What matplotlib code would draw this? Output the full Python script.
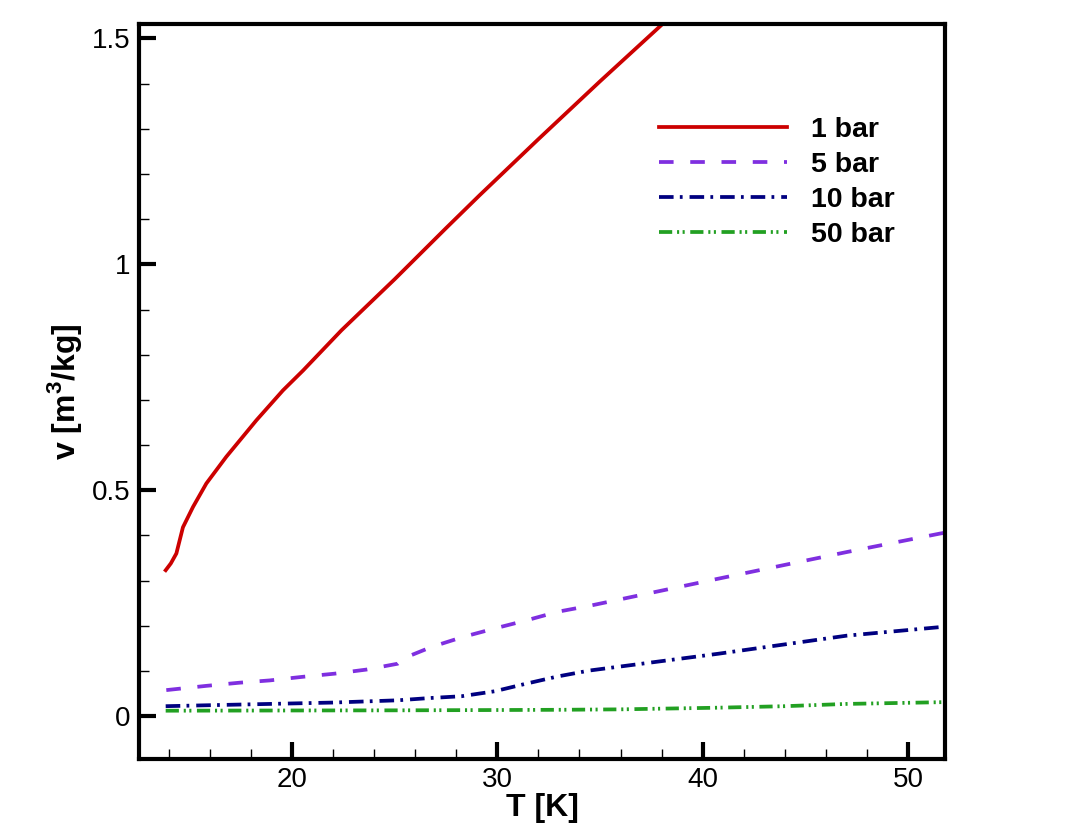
import matplotlib
matplotlib.use('Agg')
from matplotlib import rcParams, pyplot as plt
from matplotlib.ticker import MultipleLocator, FuncFormatter

rcParams['font.family'] = ['Liberation Sans', 'DejaVu Sans']
rcParams['mathtext.fontset'] = 'custom'
rcParams['mathtext.rm'] = 'Liberation Sans:bold'
rcParams['mathtext.bf'] = 'Liberation Sans:bold'
rcParams['lines.scale_dashes'] = False

# 1 bar
T1 = [13.85, 14.1, 14.37, 14.69, 15.18, 15.83, 16.8, 18.27, 19.56, 20.54,
	22.41, 25.0, 27.5, 29.14, 32.0, 35.0, 38.0, 40.0]
v1 = [0.323, 0.338, 0.36, 0.418, 0.463, 0.515, 0.574, 0.655, 0.721, 0.765,
	0.854, 0.967, 1.08, 1.153, 1.277, 1.405, 1.53, 1.615]
# 5 bar
T5 = [13.88, 15.83, 17.45, 18.91, 20.52, 22.08, 23.62, 25.15, 25.49, 26.79,
	28.31, 29.87, 31.42, 32.94, 34.58, 40.74, 47.0, 51.55, 51.8]
v5 = [0.0576, 0.067, 0.074, 0.079, 0.087, 0.094, 0.103, 0.116, 0.129, 0.153,
	0.175, 0.194, 0.212, 0.231, 0.245, 0.304, 0.363, 0.404, 0.406]
# 10 bar
T10 = [13.85, 15.83, 18.91, 21.98, 25.15, 26.7, 28.25, 29.87, 31.42, 32.96,
	34.5, 40.75, 47.0, 51.55, 51.8]
v10 = [0.022, 0.024, 0.027, 0.030, 0.035, 0.040, 0.044, 0.055, 0.072, 0.088,
	0.101, 0.138, 0.178, 0.197, 0.199]
# 50 bar
T50 = [13.85, 20.0, 25.0, 30.0, 33.0, 36.0, 40.7, 44.0, 47.0, 51.8]
v50 = [0.012, 0.0125, 0.0128, 0.0135, 0.014, 0.015, 0.0186, 0.022, 0.027, 0.031]

labels = ['1 bar', '5 bar', '10 bar', '50 bar']

fig = plt.figure(figsize=(10.75, 8.39), dpi=100)
ax = fig.add_axes([0.1293, 0.0953, 0.879 - 0.1293, 0.9714 - 0.0953])

lw = 2.7
ax.plot(T1, v1, color='#cc0000', lw=lw, ls='-', label=labels[0])
ax.plot(T5, v5, color='#7f2fe0', lw=lw, ls=(0, (10.5, 12)), label=labels[1])
ax.plot(T10, v10, color='#000080', lw=lw, ls=(0, (10.5, 4.5, 2, 5)),
	label=labels[2])
ax.plot(T50, v50, color='#22a022', lw=lw,
	ls=(0, (9.5, 3.5, 1.5, 2.5, 1.5, 4)), label=labels[3])

ax.set_xlim(12.55, 51.8)
ax.set_ylim(-0.095, 1.532)

ax.xaxis.set_major_locator(MultipleLocator(10))
ax.xaxis.set_minor_locator(MultipleLocator(2))
ax.yaxis.set_major_locator(MultipleLocator(0.5))
ax.yaxis.set_minor_locator(MultipleLocator(0.1))
ax.yaxis.set_major_formatter(FuncFormatter(lambda v, p: '%g' % v))

ax.tick_params(which='both', direction='in', top=False, right=False)
ax.tick_params(which='major', length=12, width=3, labelsize=20, pad=6)
ax.tick_params(which='minor', length=7, width=1)
for s in ax.spines.values():
	s.set_linewidth(3)

ax.set_xlabel('T [K]', fontsize=23, fontweight='bold', labelpad=0)
ax.set_ylabel(r'v [m$^{3}$/kg]', fontsize=23, fontweight='bold', labelpad=6)

ax.legend(loc='upper left', bbox_to_anchor=(0.645, 0.874), frameon=False,
	prop={'weight': 'bold', 'size': 20.5}, handlelength=4.5,
	handletextpad=0.84, labelspacing=0.32, borderpad=0, borderaxespad=0)

plt.savefig('out.png', dpi=100)
